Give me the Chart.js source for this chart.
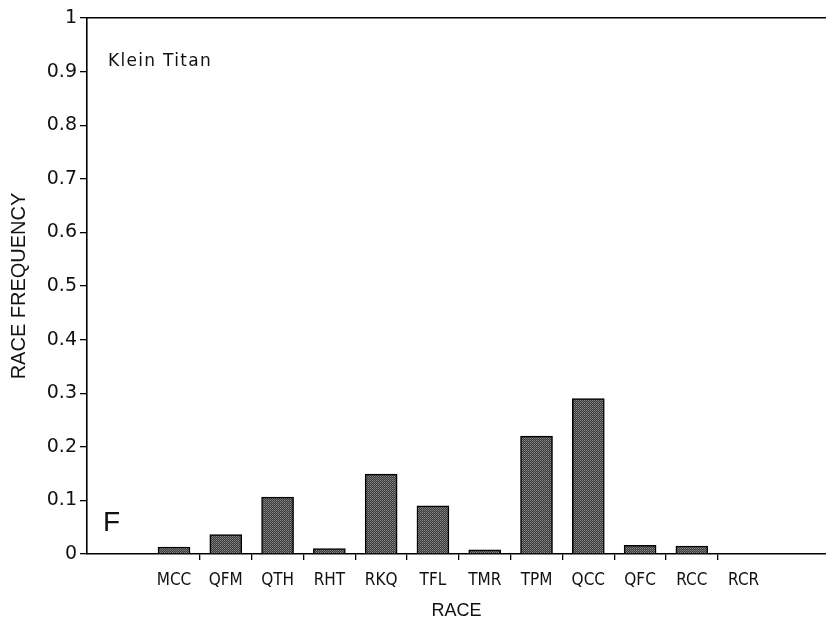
<!DOCTYPE html>
<html>
<head>
<meta charset="utf-8">
<script src="https://cdn.jsdelivr.net/npm/chart.js@4.4.1/dist/chart.umd.min.js"></script>
<style>
  html, body { margin: 0; padding: 0; background: #fff; }
  #wrap { width: 826px; height: 622px; }
</style>
</head>
<body>
<div id="wrap"><canvas id="grafica"></canvas></div>
<script>
// datos
const races = ['MCC', 'QFM', 'QTH', 'RHT', 'RKQ', 'TFL', 'TMR', 'TPM', 'QCC', 'QFC', 'RCC', 'RCR'];
const frequency = [0.013, 0.036, 0.106, 0.010, 0.149, 0.090, 0.008, 0.220, 0.290, 0.016, 0.015, 0];
const yTickLabels = ['0', '0.1', '0.2', '0.3', '0.4', '0.5', '0.6', '0.7', '0.8', '0.9', '1'];
const panelTitle = 'Klein Titan';
const panelLetter = 'F';

// relleno punteado tipo impresion
function hacerTrama() {
    const c = document.createElement('canvas');
    c.width = 2; c.height = 2;
    const g = c.getContext('2d');
    g.fillStyle = '#3a3a3a'; g.fillRect(0, 0, 2, 2);
    g.fillStyle = '#8a8a8a'; g.fillRect(0, 0, 1, 1);
    g.fillStyle = '#6a6a6a'; g.fillRect(1, 1, 1, 1);
    return g.createPattern(c, 'repeat');
}

const textosPanel = {
    id: 'textosPanel',
    afterDraw(chart) {
        const { ctx, chartArea } = chart;
        ctx.save();
        ctx.fillStyle = '#111';
        ctx.textBaseline = 'alphabetic';
        ctx.font = '17px "DejaVu Sans"';
        if ('letterSpacing' in ctx) ctx.letterSpacing = '1.3px';
        ctx.fillText(panelTitle, chartArea.left + 21, chartArea.top + 48);
        ctx.font = '28px "Liberation Sans"';
        if ('letterSpacing' in ctx) ctx.letterSpacing = '0px';
        ctx.fillText(panelLetter, chartArea.left + 16, chartArea.top + 513);
        ctx.restore();
    }
};

const ctx = document.getElementById('grafica').getContext('2d');
new Chart(ctx, {
    type: 'bar',
    data: {
        datasets: [{
            data: races.map((r, i) => ({ x: i, y: frequency[i] })),
            backgroundColor: hacerTrama(),
            borderColor: '#000',
            borderWidth: 1.5,
            barThickness: 32
        }]
    },
    options: {
        responsive: true,
        maintainAspectRatio: false,
        animation: false,
        layout: { padding: 0 },
        plugins: { legend: { display: false }, tooltip: { enabled: false } },
        scales: {
            x: {
                type: 'linear',
                position: 'bottom',
                min: -1.68,
                max: 12.59,
                offset: false,
                afterBuildTicks: s => { s.ticks = races.map((_, i) => ({ value: i })); },
                afterFit: s => { s.height = 68; },
                grid: {
                    offset: true,
                    drawOnChartArea: false,
                    tickLength: 6,
                    lineWidth: 1.3,
                    color: c => (c.index > 0 && c.index < races.length) ? '#000' : 'rgba(0,0,0,0)'
                },
                border: { color: '#000', width: 1.6 },
                ticks: {
                    autoSkip: false,
                    maxRotation: 0,
                    padding: 10,
                    color: '#111',
                    font: { family: '"Liberation Sans Narrow", "DejaVu Sans Condensed", "Liberation Sans"', size: 17 },
                    callback: v => races[v]
                },
                title: {
                    display: true,
                    text: 'RACE',
                    color: '#111',
                    padding: { top: 0, bottom: 0 },
                    font: { family: '"Liberation Sans"', size: 18 }
                }
            },
            xTop: {
                type: 'linear',
                position: 'top',
                min: 0,
                max: 1,
                afterFit: s => { s.height = 18; },
                grid: { display: false },
                ticks: { display: false },
                border: { color: '#000', width: 1.6 }
            },
            y: {
                min: 0,
                max: 1,
                afterFit: s => { s.width = 87; },
                grid: { drawOnChartArea: false, tickLength: 7, color: '#000', lineWidth: 1.3 },
                border: { color: '#000', width: 1.6 },
                ticks: {
                    stepSize: 0.1,
                    padding: 3,
                    color: '#111',
                    font: { family: '"DejaVu Sans"', size: 19 },
                    callback: (v, i) => yTickLabels[i]
                },
                title: {
                    display: true,
                    text: 'RACE FREQUENCY',
                    color: '#111',
                    padding: { top: 7, bottom: 0 },
                    font: { family: '"Liberation Sans"', size: 20 }
                }
            }
        }
    },
    plugins: [textosPanel]
});
</script>
</body>
</html>
